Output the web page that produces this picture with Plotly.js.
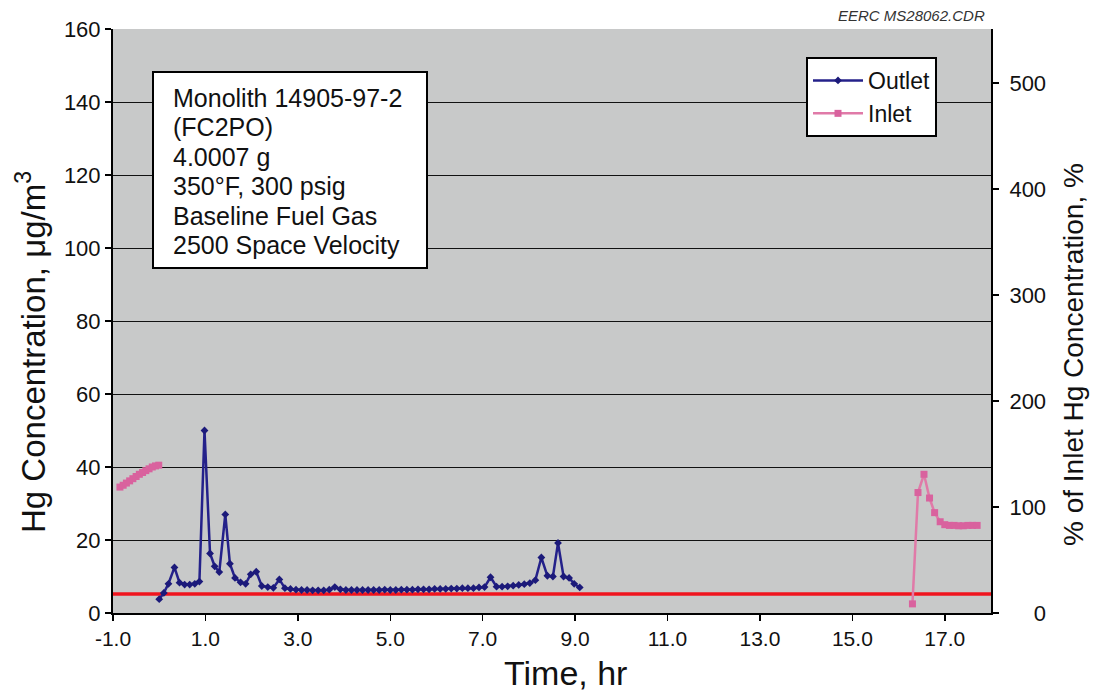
<!DOCTYPE html>
<html>
<head>
<meta charset="utf-8">
<script src="https://cdn.plot.ly/plotly-3.0.1.min.js"></script>
<style>html,body{margin:0;padding:0;background:#fff;}#chart{width:1096px;height:692px;}</style>
</head>
<body>
<div id="chart"></div>
<script>
// ---- Data ----
const outletTime = [0.0, 0.1, 0.2, 0.33, 0.44, 0.55, 0.66, 0.77, 0.87, 0.98, 1.1, 1.2, 1.3, 1.43, 1.53, 1.64, 1.76, 1.87, 1.98, 2.1, 2.22, 2.35, 2.47, 2.6, 2.72, 2.84, 2.96, 3.08, 3.2, 3.32, 3.44, 3.56, 3.68, 3.8, 3.92, 4.04, 4.16, 4.28, 4.4, 4.52, 4.64, 4.76, 4.88, 5.0, 5.12, 5.24, 5.36, 5.48, 5.6, 5.72, 5.84, 5.96, 6.08, 6.2, 6.32, 6.44, 6.56, 6.68, 6.8, 6.92, 7.04, 7.17, 7.3, 7.42, 7.54, 7.66, 7.78, 7.9, 8.02, 8.14, 8.27, 8.4, 8.52, 8.63, 8.75, 8.87, 8.98, 9.1];
const outletHg = [3.8, 5.5, 8.0, 12.5, 8.3, 7.8, 7.8, 8.0, 8.6, 50, 16.3, 12.8, 11.2, 27, 13.5, 9.6, 8.4, 8.0, 10.6, 11.3, 7.4, 7.1, 6.9, 9.2, 6.8, 6.6, 6.4, 6.3, 6.3, 6.2, 6.2, 6.2, 6.4, 7.1, 6.5, 6.3, 6.3, 6.3, 6.3, 6.3, 6.3, 6.3, 6.4, 6.3, 6.3, 6.4, 6.4, 6.4, 6.5, 6.5, 6.5, 6.6, 6.6, 6.6, 6.7, 6.7, 6.8, 6.8, 6.8, 7.0, 7.1, 9.8, 7.2, 7.2, 7.3, 7.5, 7.7, 7.9, 8.2, 9.0, 15.2, 10.2, 10.0, 19.2, 10.0, 9.6, 8.0, 7.0];

const inletTime = [-0.85, -0.78, -0.71, -0.64, -0.57, -0.5, -0.43, -0.36, -0.29, -0.22, -0.15, -0.08, -0.01, null, 16.3, 16.42, 16.55, 16.67, 16.78, 16.9, 17.0, 17.1, 17.2, 17.3, 17.4, 17.5, 17.6, 17.7];
const inletHg = [34.5, 35.0, 35.6, 36.2, 36.8, 37.4, 38.0, 38.5, 39.0, 39.5, 40.0, 40.3, 40.5, null, 2.5, 33, 38, 31.5, 27.5, 25, 24.2, 24, 24, 23.9, 23.9, 24, 24, 24];

const limitTime = [-1, 18];
const limitHg = [5.2, 5.2];

const xTickVals = [-1, 1, 3, 5, 7, 9, 11, 13, 15, 17];
const xTickText = ['-1.0', '1.0', '3.0', '5.0', '7.0', '9.0', '11.0', '13.0', '15.0', '17.0'];
const yTickVals = [0, 20, 40, 60, 80, 100, 120, 140, 160];
const y2TickVals = [0, 100, 200, 300, 400, 500];
const y2TickText = ['\u2007\u20070', '100', '200', '300', '400', '500'];

const noteLines = ['Monolith 14905-97-2', '(FC2PO)', '4.0007 g', '350°F, 300 psig', 'Baseline Fuel Gas', '2500 Space Velocity'];
const xTitle = 'Time, hr';
const yTitle = 'Hg Concentration, μg/m<sup>3</sup>';
const y2Title = '% of Inlet Hg Concentration, %';
const fileTag = 'EERC MS28062.CDR';

// ---- Traces ----
const font = 'Liberation Sans, Arial, sans-serif';
const traces = [
  {
    x: limitTime, y: limitHg, mode: 'lines', showlegend: false, hoverinfo: 'skip',
    line: {color: '#f0141e', width: 3.5}
  },
  {
    name: 'Outlet', x: outletTime, y: outletHg, mode: 'lines+markers',
    line: {color: '#24218a', width: 2.5},
    marker: {symbol: 'diamond', size: 6, color: '#1c1a7a'}
  },
  {
    name: 'Inlet', x: inletTime, y: inletHg, mode: 'lines+markers', connectgaps: false,
    line: {color: '#e07aa8', width: 2.5},
    marker: {symbol: 'square', size: 7, color: '#d9629e'}
  },
  // helper so the right axis is registered
  {x: [null], y: [null], yaxis: 'y2', showlegend: false, hoverinfo: 'skip', mode: 'lines'}
];

// plot area in pixels: left 113, right 991, top 29, bottom 613
const L = 113, R = 991, T = 29, B = 613;
const px = v => (v - L) / (R - L);
const py = v => (B - v) / (B - T);

const annotations = [];
noteLines.forEach((line, i) => {
  annotations.push({
    xref: 'paper', yref: 'paper', x: px(171), y: py(98 + 29.4 * i),
    xanchor: 'left', yanchor: 'middle', text: line, showarrow: false, align: 'left',
    font: {family: font, size: 25, color: '#111'}
  });
});
annotations.push(
  {
    xref: 'paper', yref: 'paper', x: px(987), y: py(15), xanchor: 'right', yanchor: 'middle',
    text: '<i>' + fileTag + '</i>', showarrow: false,
    font: {family: font, size: 15, color: '#333'}
  },
  {
    xref: 'paper', yref: 'paper', x: px(565), y: py(673), xanchor: 'center', yanchor: 'middle',
    text: xTitle, showarrow: false, font: {family: font, size: 34, color: '#111'}
  },
  {
    xref: 'paper', yref: 'paper', x: px(31), y: py(352), xanchor: 'center', yanchor: 'middle',
    text: yTitle, textangle: -90, showarrow: false, font: {family: font, size: 33, color: '#111'}
  },
  {
    xref: 'paper', yref: 'paper', x: px(1073), y: py(355), xanchor: 'center', yanchor: 'middle',
    text: y2Title, textangle: -90, showarrow: false, font: {family: font, size: 28, color: '#111'}
  }
);

const layout = {
  width: 1096, height: 692,
  margin: {l: L, r: 1096 - R, t: T, b: 692 - B},
  paper_bgcolor: '#ffffff',
  plot_bgcolor: '#c8c9c9',
  font: {family: font, color: '#111', size: 21},
  showlegend: true,
  legend: {
    x: px(806), y: py(57), xanchor: 'left', yanchor: 'top',
    bgcolor: '#ffffff', bordercolor: '#000', borderwidth: 2,
    font: {family: font, size: 23, color: '#111'},
    itemwidth: 50, tracegroupgap: 0
  },
  xaxis: {
    range: [-1, 18], tickvals: xTickVals, ticktext: xTickText,
    showgrid: false, zeroline: false,
    showline: true, linecolor: '#000', linewidth: 2,
    ticks: 'outside', ticklen: 6, tickcolor: '#000', tickwidth: 1.5,
    tickfont: {family: font, size: 21, color: '#111'}
  },
  yaxis: {
    range: [0, 160], tickvals: yTickVals,
    showgrid: true, gridcolor: '#111', gridwidth: 1,
    zeroline: false,
    showline: true, linecolor: '#000', linewidth: 2,
    ticks: 'outside', ticklen: 6, tickcolor: '#000', tickwidth: 1.5,
    tickfont: {family: font, size: 22, color: '#111'}
  },
  yaxis2: {
    overlaying: 'y', side: 'right', range: [0, 551], tickvals: y2TickVals, ticktext: y2TickText,
    showgrid: false, zeroline: false,
    showline: true, linecolor: '#000', linewidth: 2,
    ticks: 'outside', ticklen: 6, tickcolor: '#000', tickwidth: 1.5,
    ticklabelstandoff: 6,
    tickfont: {family: font, size: 22, color: '#111'}
  },
  shapes: [
    {
      type: 'rect', xref: 'paper', yref: 'paper',
      x0: px(153), x1: px(427), y0: py(268), y1: py(72),
      fillcolor: '#ffffff', line: {color: '#000', width: 2}, layer: 'above'
    }
  ],
  annotations: annotations
};

Plotly.newPlot('chart', traces, layout, {displayModeBar: false, staticPlot: true});
</script>
</body>
</html>
